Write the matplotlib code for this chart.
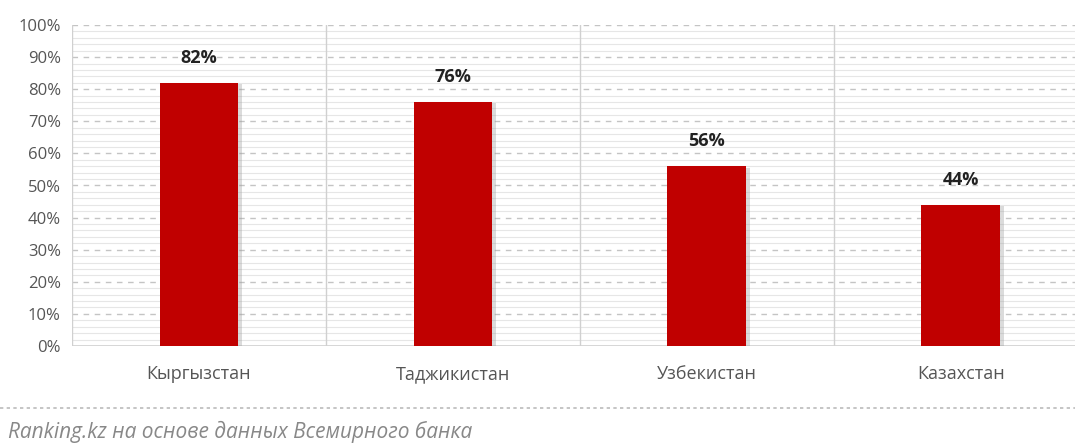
import matplotlib
matplotlib.use("Agg")
import matplotlib.pyplot as plt
import matplotlib.patheffects as pe
import numpy as np

categories = ["Кыргызстан", "Таджикистан", "Узбекистан", "Казахстан"]
values = [82, 76, 56, 44]
yticks = [0, 10, 20, 30, 40, 50, 60, 70, 80, 90, 100]
source = "Ranking.kz на основе данных Всемирного банка"

plt.rcParams['font.family'] = ['Open Sans', 'DejaVu Sans']

fig = plt.figure(figsize=(10.75, 4.44), dpi=100)
ax = fig.add_axes([72/1075, 1-346/444, 1-72/1075, (346-25)/444])

x = np.arange(len(categories))
# minor solid gridlines every 2%
for v in np.arange(2, 100, 2):
    if v % 10 != 0:
        ax.axhline(v, color="#e6e6e6", lw=0.8, zorder=0)
for v in yticks[1:]:
    ax.axhline(v, color="#c4c4c4", lw=1.0, ls=(0, (4, 4)), zorder=0.5)
for b in np.arange(-0.5, len(categories), 1.0):
    ax.axvline(b, color="#d0d0d0", lw=1.0, zorder=0.6)
ax.axhline(0, color="#d0d0d0", lw=1.2, zorder=0.6)

bars = ax.bar(x, values, width=0.31, color="#c00000", zorder=3,
              path_effects=[pe.SimplePatchShadow(offset=(3, -1), shadow_rgbFace="#999999", alpha=0.35), pe.Normal()])
for xi, v in zip(x, values):
    ax.text(xi, v + 5, f"{v}%", ha="center", va="bottom", fontsize=13,
            fontweight="bold", color="#222222")

ax.set_xlim(-0.5, 3.45)
ax.set_ylim(0, 100)
ax.set_yticks(yticks)
ax.set_yticklabels([f"{v}%" for v in yticks], fontsize=12, color="#555555")
ax.set_xticks(x)
ax.set_xticklabels(categories, fontsize=13, color="#555555")
ax.tick_params(length=0, pad=8)
ax.tick_params(axis="x", pad=14)
for s in ax.spines.values():
    s.set_visible(False)

fig.add_artist(plt.Line2D([0, 1], [1-408/444, 1-408/444], color="#bbbbbb", lw=1.2,
                          ls=(0, (2, 2)), transform=fig.transFigure))
fig.text(8/1075, 1-432/444, source, fontsize=15, style="italic", color="#888888",
         va="center", ha="left")

fig.savefig("out.png", dpi=100)
